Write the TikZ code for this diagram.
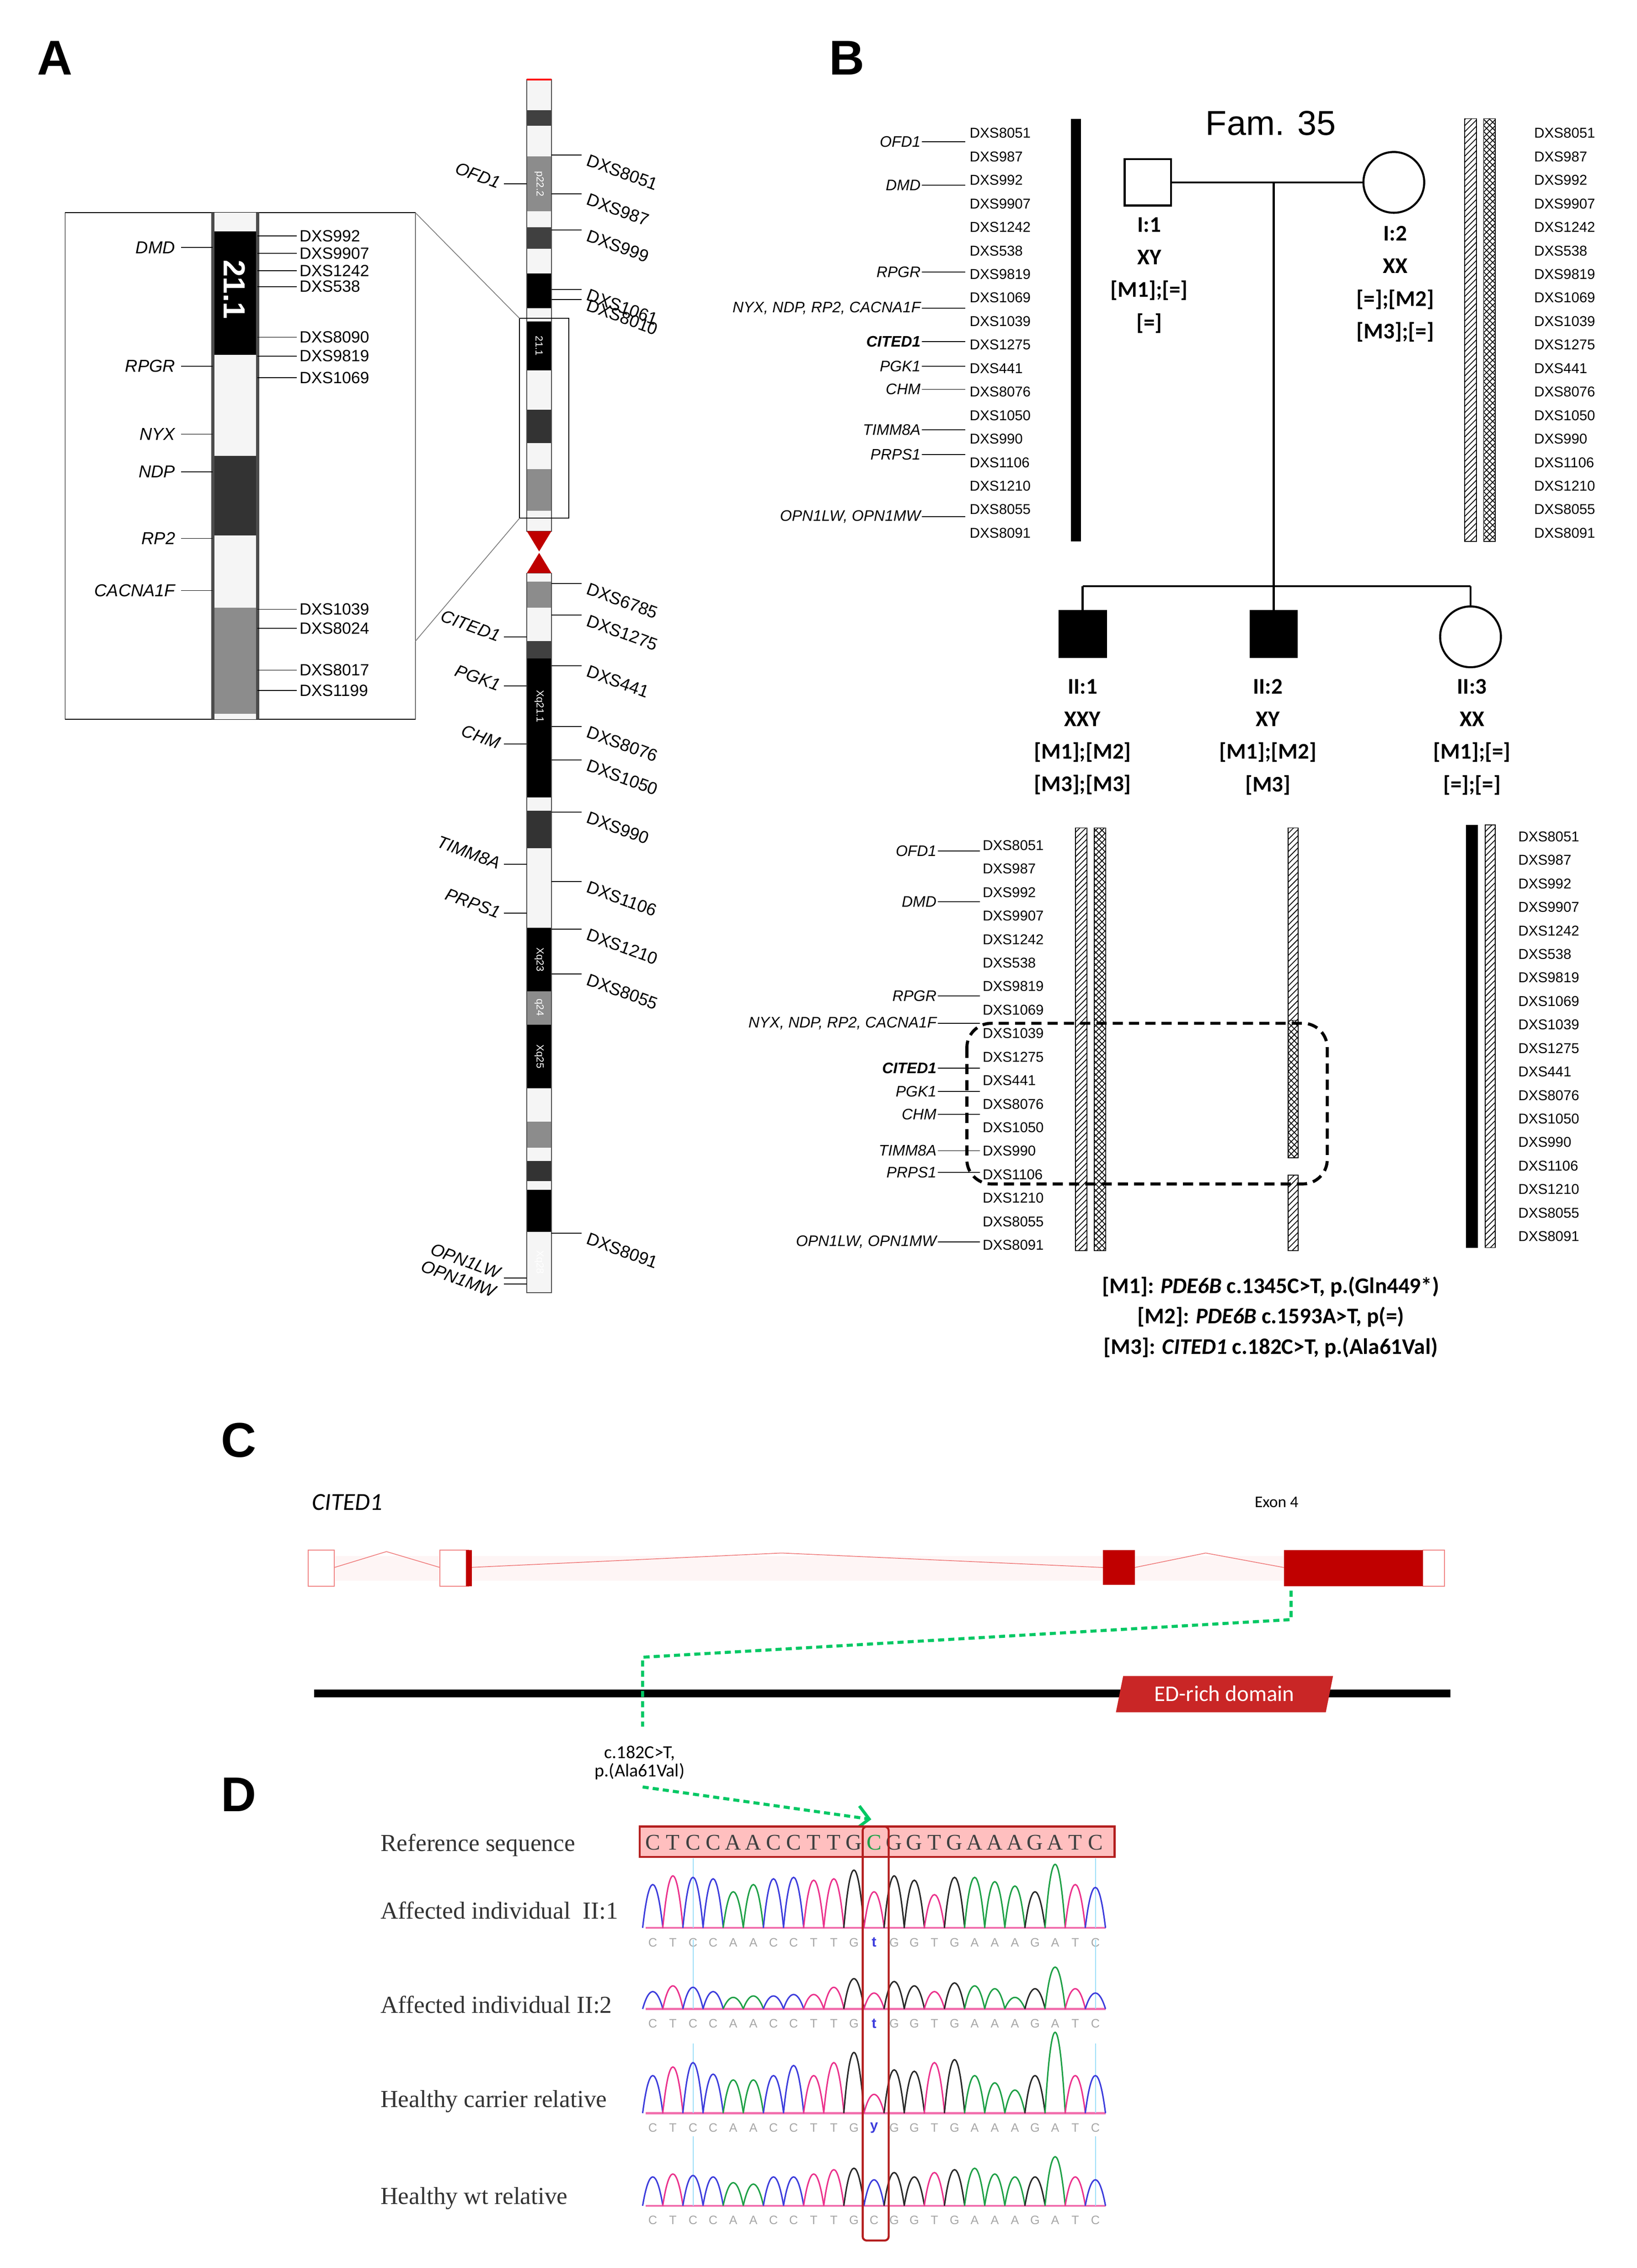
\documentclass[tikz,border=0pt]{standalone}
\usepackage{fontspec}
\setmainfont{Carlito}
\newfontfamily\garamondf{Liberation Serif}
\newfontfamily\arialf{Liberation Sans}
\usepackage{tikz}
\usetikzlibrary{patterns,calc,positioning,arrows.meta}
\definecolor{baseA}{RGB}{30,160,70}
\definecolor{baseC}{RGB}{60,60,220}
\definecolor{baseG}{RGB}{40,40,40}
\definecolor{baseT}{RGB}{235,50,140}
\definecolor{exon_red}{RGB}{192,0,0}
\definecolor{intron_red}{RGB}{240,130,130}
\definecolor{mut_green}{RGB}{0,200,100}
\definecolor{box_red}{RGB}{180,30,30}
\newcommand{\fsz}[1]{\fontsize{#1}{#1}\selectfont}
\newcommand{\seqrow}[3]{% baseline, base/height list, letter row y
  \draw[baseT!70, line width=1pt] (446,#1) -- (764,#1);
  \draw[cyan!40] (479,#1-48) -- (479,#1);
  \draw[cyan!40] (757,#1-48) -- (757,#1);
  \foreach \b/\h [count=\i from 0] in {#2} {
    \pgfmathsetmacro{\px}{451+13.9*\i}
    \pgfmathsetmacro{\pt}{#1-1.33*\h}
    \draw[base\b, line width=0.7pt] (\px-7,#1) .. controls (\px-2.5,\pt) and (\px+2.5,\pt) .. (\px+7,#1);
  }
  \foreach \l [count=\i from 0] in {C,T,C,C,A,A,C,C,T,T,G,,G,G,T,G,A,A,A,G,A,T,C}
    \node[font=\arialf\fsz{6}, text=gray!70] at (451+13.9*\i,#3) {\l};
}
\tikzset{
  panel/.style={font=\arialf\bfseries\fsz{24}},
  mk/.style={font=\arialf\fsz{7}, anchor=west, inner sep=0.5pt},
  gene/.style={font=\arialf\itshape\fsz{7.5}, anchor=east, inner sep=0.5pt},
  rmk/.style={font=\arialf\fsz{8.5}, anchor=west, rotate=-20, inner sep=0.5pt},
  rgene/.style={font=\arialf\itshape\fsz{8.5}, anchor=east, rotate=-20, inner sep=0.5pt},
  male/.style={draw, line width=1pt, minimum size=8mm, inner sep=0pt},
  female/.style={draw, circle, line width=1pt, minimum size=10.5mm, inner sep=0pt},
  lbl/.style={font=\bfseries\fsz{11}, align=center, anchor=north, inner sep=0pt},
  hatch/.style={draw, pattern=north east lines},
  xhatch/.style={draw, pattern=crosshatch},
  gdash/.style={mut_green, line width=1.5pt, dash pattern=on 3pt off 2pt},
  rowlbl/.style={font=\garamondf\fsz{12}, anchor=west, text=black!80}
}
\begin{document}
\begin{tikzpicture}[x=0.25mm, y=-0.25mm]
\useasboundingbox (0,0) rectangle (1131,1567);
% Panel A
\node[panel] at (38,40) {A};
\foreach \ya/\yb/\c in {55/76/gray!8, 76/87/black!75, 87/108/gray!8, 108/146/black!45,
  146/157/gray!8, 157/172/black!75, 172/189/gray!8, 189/213/black, 213/222/gray!8,
  222/256/black, 256/283/gray!8, 283/306/black!80, 306/324/gray!8, 324/353/black!45,
  353/367/gray!8, 396/402/gray!8, 402/420/black!45, 420/443/gray!8, 443/455/black!75,
  455/551/black, 551/560/gray!8, 560/586/black!80, 586/641/gray!8, 641/685/black,
  685/708/black!45, 708/752/black, 752/775/gray!8, 775/793/black!45, 793/802/gray!8,
  802/816/black!80, 816/822/gray!8, 822/851/black, 851/893/gray!8}
  \fill[\c] (364,\ya) rectangle (381,\yb);
\draw[black!70] (364,55) rectangle (381,367);
\draw[black!70] (364,396) rectangle (381,893);
\draw[red, line width=1pt] (364,55) -- (381,55);
\fill[red!75!black] (364,367) -- (381,367) -- (372.5,381) -- cycle;
\fill[red!75!black] (364,396) -- (381,396) -- (372.5,382) -- cycle;
\foreach \y/\t in {127/p22.2, 239/21.1, 488/Xq21.1, 663/Xq23, 696/q24, 730/Xq25, 872/Xq28}
  \node[rotate=-90, text=white, font=\arialf\fsz{5}] at (372.5,\y) {\t};
\draw (359,220) rectangle (393,358);
% main chromosome markers
\foreach \y/\t in {107/DXS8051, 134/DXS987, 159/DXS999, 200/DXS1061, 207/DXS8010,
  403/DXS6785, 425/DXS1275, 460/DXS441, 502/DXS8076, 525/DXS1050, 561/DXS990,
  609/DXS1106, 642/DXS1210, 673/DXS8055, 852/DXS8091} {
  \draw (381,\y) -- (402,\y);
  \node[rmk] at (405,\y+3) {\t};
}
\foreach \y/\t in {127/OFD1, 440/CITED1, 474/PGK1, 514/CHM, 597/TIMM8A, 631/PRPS1} {
  \draw (348,\y) -- (364,\y);
  \node[rgene] at (346,\y) {\t};
}
\draw (348,883) -- (364,883);
\draw (348,887) -- (364,887);
\node[rgene] at (346,880) {OPN1LW};
\node[rgene] at (343,893) {OPN1MW};
% inset
\draw (45,147) rectangle (287,497);
\draw[gray] (287,147) -- (359,220);
\draw[gray] (287,443) -- (359,358);
\foreach \ya/\yb/\c in {147/160/gray!8, 160/245/black, 245/315/gray!8, 315/370/black!80,
  370/420/gray!8, 420/493/black!45, 493/497/gray!8}
  \fill[\c] (147,\ya) rectangle (178,\yb);
\draw[black!70, line width=1.5pt] (147,147) -- (147,497);
\draw[black!70, line width=1.5pt] (178,147) -- (178,497);
\node[rotate=-90, text=white, font=\arialf\bfseries\fsz{15}] at (162,200) {21.1};
\foreach \y/\t in {171/DMD, 253/RPGR, 300/NYX, 326/NDP, 372/RP2, 408/CACNA1F} {
  \draw (125,\y) -- (147,\y);
  \node[gene, font=\arialf\itshape\fsz{8.5}] at (122,\y) {\t};
}
\foreach \y/\t in {163/DXS992, 175/DXS9907, 187/DXS1242, 198/DXS538, 233/DXS8090,
  246/DXS9819, 261/DXS1069, 421/DXS1039, 434/DXS8024, 463/DXS8017, 477/DXS1199} {
  \draw (178,\y) -- (205,\y);
  \node[mk, font=\arialf\fsz{8}] at (206,\y) {\t};
}
% Panel B
\node[panel] at (585,40) {B};
\node[font=\arialf\fsz{17}] at (878,85) {Fam. 35};
\node[male] (I1) at (793,126) {};
\node[female] (I2) at (963,126) {};
\node[male, fill=black] (II1) at (748,438) {};
\node[male, fill=black] (II2) at (880,438) {};
\node[female] (II3) at (1016,440) {};
\coordinate (mate) at (880,126);
\coordinate (sibs) at (880,405);
\draw[line width=1pt] (I1) -- (I2);
\draw[line width=1pt] (mate) -- (sibs);
\draw[line width=1pt] (II1 |- sibs) -- (II3 |- sibs);
\foreach \k in {II1, II2, II3}
  \draw[line width=1pt] (\k |- sibs) -- (\k.north);
\node[lbl] at (794,150) {I:1\\[5pt]XY\\[5pt][M1];[=]\\[5pt][=]};
\node[lbl] at (964,156) {I:2\\[5pt]XX\\[5pt][=];[M2]\\[5pt][M3];[=]};
\node[lbl] at (748,469) {II:1\\[5pt]XXY\\[5pt][M1];[M2]\\[5pt][M3];[M3]};
\node[lbl] at (876,469) {II:2\\[5pt]XY\\[5pt][M1];[M2]\\[5pt][M3]};
\node[lbl] at (1017,469) {II:3\\[5pt]XX\\[5pt][M1];[=]\\[5pt][=];[=]};
% haplotype bars
\fill (740,82) rectangle (747,374);
\path[hatch] (1012,82) rectangle (1020,374);
\path[xhatch] (1025,82) rectangle (1033,374);
\path[hatch] (743,572) rectangle (751,864);
\path[xhatch] (756,572) rectangle (764,864);
\path[hatch] (890,572) rectangle (897,705);
\path[xhatch] (890,705) rectangle (897,800);
\path[hatch] (890,812) rectangle (897,864);
\fill (1013,570) rectangle (1021,862);
\path[hatch] (1026,570) rectangle (1033,862);
% marker columns
\foreach \t [count=\i from 0] in {DXS8051, DXS987, DXS992, DXS9907, DXS1242, DXS538,
  DXS9819, DXS1069, DXS1039, DXS1275, DXS441, DXS8076, DXS1050, DXS990, DXS1106,
  DXS1210, DXS8055, DXS8091} {
  \node[mk] at (669,92+16.25*\i) {\t};
  \node[mk] at (1059,92+16.25*\i) {\t};
  \node[mk] at (678,584+16.25*\i) {\t};
  \node[mk] at (1048,578+16.25*\i) {\t};
}
\foreach \y/\g in {98/OFD1, 128/DMD, 188/RPGR, 213/{NYX, NDP, RP2, CACNA1F},
  236/{\bfseries CITED1}, 253/PGK1, 269/CHM, 297/TIMM8A, 314/PRPS1, 357/{OPN1LW, OPN1MW}} {
  \node[gene] (gt\y) at (637,\y) {\g};
  \draw (gt\y.east) -- (667,\y);
}
\foreach \y/\g in {588/OFD1, 623/DMD, 688/RPGR, 707/{NYX, NDP, RP2, CACNA1F},
  738/{\bfseries CITED1}, 754/PGK1, 770/CHM, 795/TIMM8A, 810/PRPS1, 858/{OPN1LW, OPN1MW}} {
  \node[gene] (gb\y) at (648,\y) {\g};
  \draw (gb\y.east) -- (677,\y);
}
\draw[line width=1.5pt, dash pattern=on 5pt off 3pt, rounded corners=12pt] (668,707) rectangle (917,818);
\node[font=\bfseries\fsz{11}, align=center] at (878,910) {%
  [M1]: \textit{PDE6B} c.1345C>T, p.(Gln449*)\\[4pt]
  [M2]: \textit{PDE6B} c.1593A>T, p(=)\\[4pt]
  [M3]: \textit{CITED1} c.182C>T, p.(Ala61Val)};
% Panel C
\node[panel] at (165,995) {C};
\node[font=\itshape\fsz{12}] at (240,1038) {CITED1};
\node[font=\fsz{8}] at (882,1038) {Exon 4};
\fill[intron_red!8] (222,1075) rectangle (990,1092);
\draw[intron_red] (231,1083) -- (267,1072) -- (304,1083);
\draw[intron_red] (324,1083) -- (540,1073) -- (762,1083);
\draw[intron_red] (784,1083) -- (833,1073) -- (887,1083);
\draw[intron_red, fill=white] (213,1071) rectangle (231,1096);
\draw[intron_red, fill=white] (304,1071) rectangle (324,1096);
\fill[exon_red] (322,1071) rectangle (326,1096);
\fill[exon_red] (762,1071) rectangle (784,1095);
\draw[intron_red, fill=white] (983,1071) rectangle (998,1096);
\fill[exon_red] (887,1071) rectangle (983,1096);
\draw[line width=4pt] (217,1170) -- (1002,1170);
\fill[red!75!black!85] (776,1158) -- (921,1158) -- (916,1183) -- (771,1183) -- cycle;
\node[text=white, font=\fsz{11}] at (846,1170) {ED-rich domain};
\coordinate (ex4) at (892,1099);
\coordinate (aa61) at (444,1193);
\draw[gdash] (ex4) -- (892,1119) -- (444,1145) -- (aa61);
\node[font=\fsz{9}, align=center] (mut) at (442,1218) {c.182C>T,\\p.(Ala61Val)};
% Panel D
\node[panel] at (165,1240) {D};
\coordinate (hit) at (602,1257);
\draw[gdash, -{Straight Barb[length=2mm]}] ($(mut.south)+(2,0)$) -- (hit);
\node[rowlbl] at (258,1275) {Reference sequence};
\node[rowlbl] at (258,1320) {Affected individual\ \ II:1};
\node[rowlbl] at (258,1385) {Affected individual II:2};
\node[rowlbl] at (258,1452) {Healthy carrier relative};
\node[rowlbl] at (258,1519) {Healthy wt relative};
\draw[box_red, fill=red!25, line width=1pt] (442,1262) rectangle (770,1283);
\foreach \l [count=\i from 0] in {C,T,C,C,A,A,C,C,T,T,G,,G,G,T,G,A,A,A,G,A,T,C}
  \node[font=\garamondf\fsz{11}, text=black!75] at (451+13.9*\i,1273) {\l};
\node[font=\garamondf\fsz{11}, text=baseA] at (603.9,1273) {C};
\seqrow{1332}{C/30,T/36,C/35,C/34,A/25,A/30,C/34,C/35,T/33,T/34,G/40,T/25,G/36,G/33,T/23,G/35,A/35,A/32,A/29,G/25,A/44,T/30,C/28}{1342}
\seqrow{1388}{C/12,T/16,C/15,C/12,A/8,A/9,C/9,C/10,T/10,T/15,G/21,T/11,G/19,G/16,T/12,G/18,A/16,A/14,A/8,G/14,A/29,T/14,C/11}{1398}
\seqrow{1460}{C/26,T/32,C/35,C/27,A/23,A/23,C/26,C/33,T/26,T/35,G/42,T/13,G/30,G/29,T/35,G/37,A/26,A/21,A/16,G/26,A/56,T/26,C/26}{1470}
\seqrow{1524}{C/20,T/22,C/21,C/20,A/16,A/15,C/20,C/20,T/22,T/25,G/26,C/18,G/23,G/20,T/23,G/25,A/26,A/22,A/20,G/20,A/34,T/20,C/18}{1534}
\node[font=\arialf\bfseries\fsz{7}, text=baseC] at (603.9,1342) {t};
\node[font=\arialf\bfseries\fsz{7}, text=baseC] at (603.9,1398) {t};
\node[font=\arialf\bfseries\fsz{7}, text=baseC] at (603.9,1470) {y};
\node[font=\arialf\fsz{6}, text=gray!70] at (603.9,1534) {C};
\draw[box_red, line width=1pt, rounded corners=2pt] (596,1262) rectangle (614,1548);
\end{tikzpicture}
\end{document}
